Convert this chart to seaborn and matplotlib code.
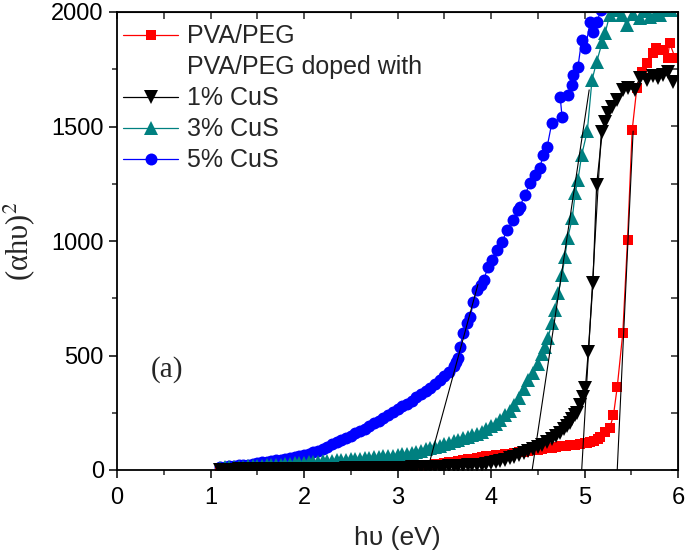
import matplotlib
matplotlib.use("Agg")
import matplotlib.pyplot as plt
import seaborn as sns
from matplotlib.lines import Line2D
from matplotlib.ticker import MultipleLocator

# ---------------- data ----------------
blue_E = [1.10, 1.15, 1.20, 1.25, 1.30, 1.35, 1.40, 1.45, 1.50, 1.55,
          1.60, 1.65, 1.70, 1.75, 1.80, 1.85, 1.90, 1.95, 2.00, 2.05,
          2.10, 2.15, 2.20, 2.25, 2.30, 2.35, 2.40, 2.45, 2.50, 2.55,
          2.60, 2.65, 2.70, 2.75, 2.80, 2.85, 2.90, 2.95, 3.00, 3.05,
          3.10, 3.15, 3.20, 3.25, 3.30, 3.35, 3.40, 3.45, 3.50, 3.55,
          3.60, 3.63, 3.65,
          3.67, 3.70, 3.74, 3.78, 3.81, 3.85, 3.89, 3.92, 3.97, 4.01,
          4.06, 4.12, 4.17, 4.24, 4.29, 4.31, 4.36, 4.42, 4.47, 4.52,
          4.56, 4.60, 4.65, 4.76, 4.74, 4.82, 4.87, 4.88, 4.93, 4.97,
          5.01, 5.06, 5.09, 5.13, 5.18]
blue_Y = [14, 15, 16, 18, 20, 22, 24, 27, 30, 33,
          36, 39, 42, 45, 49, 53, 57, 61, 65, 71,
          77, 84, 92, 101, 112, 122, 131, 140, 150, 160,
          170, 181, 192, 204, 216, 228, 240, 252, 265, 278,
          290, 303, 317, 331, 345, 360, 376, 392, 410, 430,
          452, 472, 490,
          537, 598, 642, 668, 733, 786, 810, 830, 886, 917,
          961, 996, 1048, 1092, 1135, 1150, 1201, 1253, 1290, 1319,
          1375, 1410, 1515, 1541, 1629, 1638, 1681, 1725, 1760, 1878,
          1843, 1956, 1913, 1956, 2010]

teal_E = [1.10, 1.15, 1.20, 1.25, 1.30, 1.35, 1.40, 1.45, 1.50, 1.55,
          1.60, 1.65, 1.70, 1.75, 1.80, 1.85, 1.90, 1.95, 2.00, 2.05,
          2.10, 2.15, 2.20, 2.25, 2.30, 2.35, 2.40, 2.45, 2.50, 2.55,
          2.60, 2.65, 2.70, 2.75, 2.80, 2.85, 2.90, 2.95, 3.00, 3.05,
          3.10, 3.15, 3.20, 3.25, 3.30, 3.35, 3.40, 3.45, 3.50, 3.55,
          3.60, 3.65, 3.70, 3.75, 3.80, 3.85, 3.90, 3.95, 4.00, 4.05,
          4.10, 4.15, 4.20, 4.25, 4.30, 4.35, 4.40, 4.45, 4.50, 4.55,
          4.58, 4.61, 4.65, 4.68, 4.72, 4.76, 4.79, 4.82, 4.87, 4.90,
          4.93, 4.97, 5.03, 5.08, 5.13, 5.19, 5.22, 5.27, 5.33, 5.40,
          5.45, 5.52, 5.59, 5.65, 5.70, 5.76, 5.81, 5.87, 5.93]
teal_Y = [10, 11, 12, 13, 14, 15, 16, 17, 18, 19,
          20, 22, 23, 24, 26, 27, 29, 30, 32, 33,
          35, 36, 38, 39, 41, 42, 44, 45, 47, 48,
          50, 52, 53, 55, 57, 59, 61, 63, 65, 68,
          72, 76, 80, 85, 90, 95, 100, 106, 112, 118,
          125, 132, 139, 146, 152, 158, 167, 178, 190, 203,
          220, 238, 258, 282, 315, 352, 392, 425, 465, 505,
          537, 576, 642, 699, 773, 852, 930, 1013, 1100, 1210,
          1266, 1376, 1480, 1703, 1782, 1869, 1908, 1987, 2010, 1985,
          1943, 1990, 1974, 2005, 1978, 1995, 1987, 2010, 2010]

black_E = [1.10, 1.15, 1.20, 1.25, 1.30, 1.35, 1.40, 1.45, 1.50, 1.55,
           1.60, 1.65, 1.70, 1.75, 1.80, 1.85, 1.90, 1.95, 2.00, 2.05,
           2.10, 2.15, 2.20, 2.25, 2.30, 2.35, 2.40, 2.45, 2.50, 2.55,
           2.60, 2.65, 2.70, 2.75, 2.80, 2.85, 2.90, 2.95, 3.00, 3.05,
           3.10, 3.15, 3.20, 3.25, 3.30, 3.35, 3.40, 3.45, 3.50, 3.55,
           3.60, 3.65, 3.70, 3.75, 3.80, 3.85, 3.90, 3.95, 4.00, 4.05,
           4.10, 4.15, 4.20, 4.25, 4.30, 4.35, 4.40, 4.45, 4.50, 4.55,
           4.60, 4.65, 4.70,
           4.74, 4.78, 4.81, 4.84, 4.87, 4.90, 4.92, 4.95, 4.98, 5.01,
           5.04, 5.09, 5.13, 5.19, 5.22, 5.25, 5.29, 5.35, 5.41, 5.47,
           5.54, 5.59, 5.67, 5.73, 5.79, 5.84, 5.89, 5.95]
black_Y = [2, 2, 2, 2, 3, 3, 3, 3, 3, 3,
           4, 4, 4, 4, 4, 4, 5, 5, 5, 5,
           5, 5, 6, 6, 6, 6, 6, 7, 7, 7,
           7, 7, 8, 8, 8, 8, 9, 9, 9, 10,
           10, 11, 11, 12, 12, 13, 14, 15, 15, 16,
           17, 18, 19, 20, 21, 22, 24, 27, 30, 34,
           39, 45, 51, 58, 65, 73, 83, 92, 100, 110,
           122, 135, 148,
           161, 178, 192, 205, 222, 238, 249, 284, 320, 358,
           515, 816, 1245, 1476, 1520, 1559, 1585, 1616, 1659, 1668,
           1659, 1712, 1703, 1720, 1712, 1725, 1738, 1694]

red_E = [1.10, 1.15, 1.20, 1.25, 1.30, 1.35, 1.40, 1.45, 1.50, 1.55,
         1.60, 1.65, 1.70, 1.75, 1.80, 1.85, 1.90, 1.95, 2.00, 2.05,
         2.10, 2.15, 2.20, 2.25, 2.30, 2.35, 2.40, 2.45, 2.50, 2.55,
         2.60, 2.65, 2.70, 2.75, 2.80, 2.85, 2.90, 2.95, 3.00, 3.05,
         3.10, 3.15, 3.20, 3.25, 3.30, 3.35, 3.40, 3.45, 3.50, 3.55,
         3.60, 3.65, 3.70, 3.75, 3.80, 3.85, 3.90, 3.95, 4.00, 4.05,
         4.10, 4.15, 4.20, 4.25, 4.30, 4.35, 4.40, 4.45, 4.50, 4.55,
         4.60,
         4.65, 4.70, 4.75, 4.80, 4.85, 4.90, 4.95, 5.00, 5.03, 5.06,
         5.10, 5.14, 5.17, 5.22, 5.27, 5.31, 5.35, 5.41, 5.46, 5.51,
         5.56, 5.61, 5.67, 5.73, 5.77, 5.84, 5.89, 5.91, 5.97]
red_Y = [1, 1, 1, 1, 1, 2, 2, 2, 2, 2,
         2, 2, 3, 3, 3, 3, 3, 3, 4, 4,
         4, 4, 5, 5, 5, 6, 6, 6, 7, 7,
         8, 8, 9, 9, 10, 10, 11, 12, 12, 13,
         14, 15, 17, 18, 20, 22, 25, 27, 30, 33,
         36, 39, 43, 47, 50, 54, 57, 60, 62, 64,
         66, 69, 72, 74, 77, 80, 83, 86, 89, 93,
         96,
         98, 101, 103, 106, 108, 110, 113, 117, 120, 122,
         128, 136, 144, 166, 183, 240, 362, 600, 1004, 1485,
         1670, 1738, 1777, 1821, 1843, 1834, 1799, 1865, 1799]

# linear fits (Tauc extrapolation): band-gap intercept and upper end of each fit line
fit_gap = [3.32, 4.44, 4.97, 5.35]
fit_end_E = [3.86, 5.05, 5.18, 5.52]
fit_end_Y = [810, 1660, 1480, 1480]

labels = ["PVA/PEG", "PVA/PEG doped with", "1% CuS", "3% CuS", "5% CuS"]
x_ticks = [0, 1, 2, 3, 4, 5, 6]
y_ticks = [0, 500, 1000, 1500, 2000]

# ---------------- figure ----------------
sns.set_style("ticks")
plt.rcParams["font.family"] = ["Liberation Sans", "DejaVu Sans"]
plt.rcParams["mathtext.fontset"] = "stix"

fig = plt.figure(figsize=(6.85, 5.56), dpi=100)
ax = fig.add_axes([117 / 685, 1 - 470 / 556, (678 - 117) / 685, (470 - 12) / 556])

series = [
    ("5% CuS", blue_E, blue_Y, "#0000FF", "o", 8.6),
    ("3% CuS", teal_E, teal_Y, "#008080", "^", 9.6),
    ("PVA/PEG", red_E, red_Y, "#FF0000", "s", 7.0),
    ("1% CuS", black_E, black_Y, "#000000", "v", 9.6),
]
for lab, xs, ys, col, mk, ms in series:
    sns.lineplot(x=xs, y=ys, ax=ax, color=col, marker=mk, markersize=ms,
                 markeredgewidth=0, linewidth=0.9, sort=False, estimator=None,
                 label=lab)

for g, xe, ye in zip(fit_gap, fit_end_E, fit_end_Y):
    sns.lineplot(x=[g, xe], y=[0, ye], ax=ax, color="black", linewidth=0.8,
                 sort=False, estimator=None, legend=False)

if ax.get_legend() is not None:
    ax.get_legend().remove()

ax.set_xlim(0, 6)
ax.set_ylim(0, 2000)
ax.set_xticks(x_ticks)
ax.set_yticks(y_ticks)
ax.xaxis.set_minor_locator(MultipleLocator(0.5))
ax.yaxis.set_minor_locator(MultipleLocator(250))
ax.tick_params(which="major", direction="out", length=5.5, width=1.1,
               labelsize=17, colors="black")
ax.tick_params(axis="x", which="major", pad=7)
ax.tick_params(axis="y", which="major", pad=4)
ax.tick_params(which="minor", direction="out", length=3.5, width=1.1)
for sp in ax.spines.values():
    sp.set_visible(True)
    sp.set_linewidth(1.3)
    sp.set_color("black")

secx = ax.secondary_xaxis("top")
secx.set_xticks([0, 0.5, 1, 1.5, 2, 2.5, 3, 3.5, 4, 4.5, 5, 5.5, 6])
secx.tick_params(direction="in", length=5, width=1.1, labeltop=False)
secy = ax.secondary_yaxis("right")
secy.set_yticks([0, 250, 500, 750, 1000, 1250, 1500, 1750, 2000])
secy.tick_params(direction="in", length=5, width=1.1, labelright=False)

ax.set_xlabel("hυ (eV)", fontsize=19, labelpad=12)
ax.set_ylabel("(αhυ)$^2$", fontsize=22, labelpad=10,
              family=["Liberation Serif", "DejaVu Serif"])
ax.text(0.36, 437, "(a)", fontsize=21, family=["Liberation Serif", "DejaVu Serif"],
        ha="left", va="center")

# legend
h, l = ax.get_legend_handles_labels()
hmap = dict(zip(l, h))
blank = Line2D([], [], linestyle="none", marker=None)
handles = [hmap["PVA/PEG"], blank, hmap["1% CuS"], hmap["3% CuS"], hmap["5% CuS"]]
ax.legend(handles, labels, loc="upper left", bbox_to_anchor=(0.011, 0.973),
          frameon=False, fontsize=18, handlelength=2.2, handletextpad=0.35,
          labelspacing=0.28, borderaxespad=0, borderpad=0)

fig.savefig("out.png", dpi=100)
